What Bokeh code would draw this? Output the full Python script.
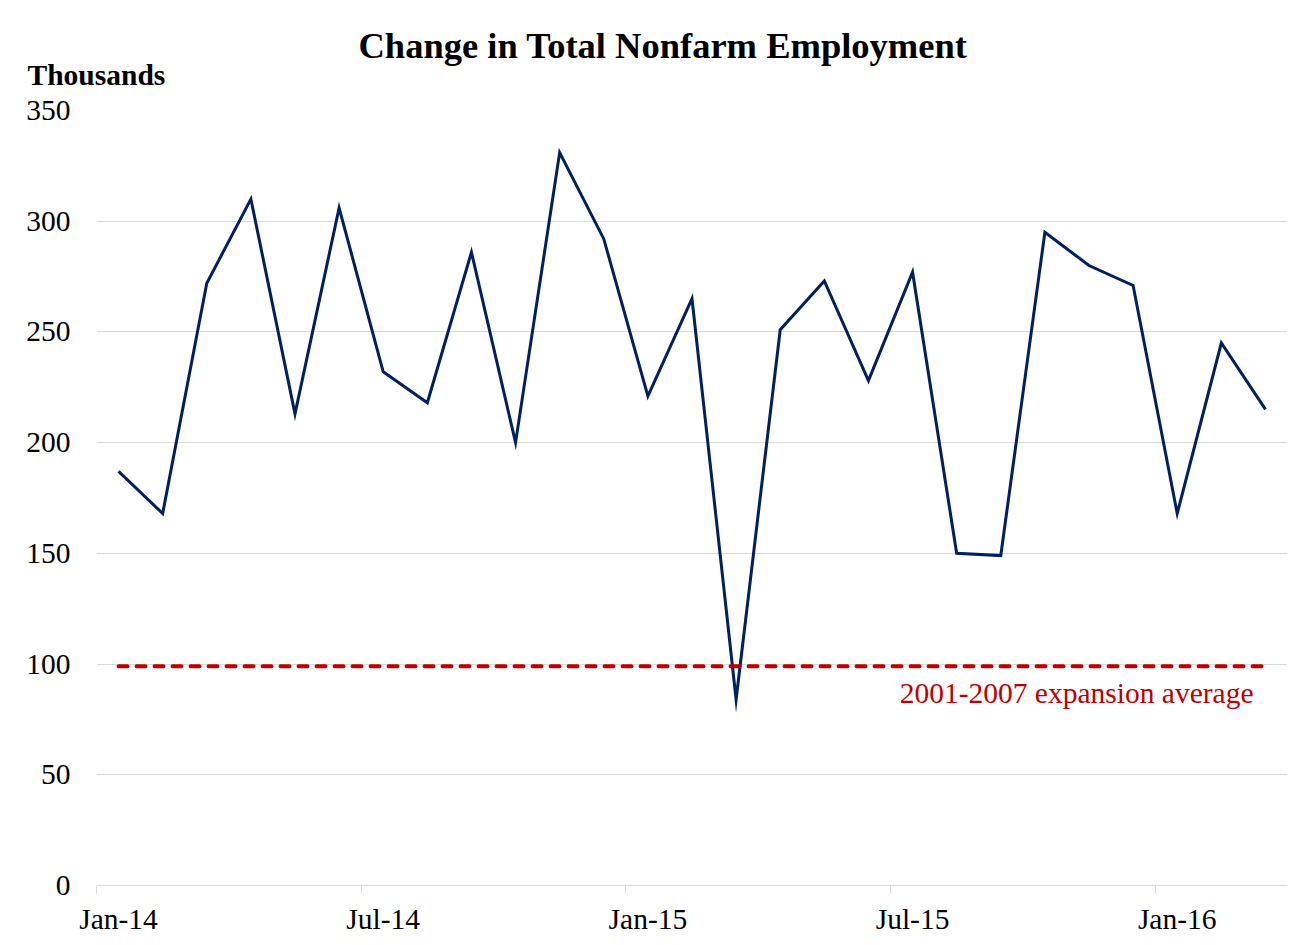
from bokeh.plotting import figure
from bokeh.models import FixedTicker, Label, ColumnDataSource, Title
from bokeh.embed import file_html
from bokeh.resources import INLINE

# ---- data ----
months = ["Jan-14", "Feb-14", "Mar-14", "Apr-14", "May-14", "Jun-14", "Jul-14", "Aug-14", "Sep-14",
          "Oct-14", "Nov-14", "Dec-14", "Jan-15", "Feb-15", "Mar-15", "Apr-15", "May-15", "Jun-15",
          "Jul-15", "Aug-15", "Sep-15", "Oct-15", "Nov-15", "Dec-15", "Jan-16", "Feb-16", "Mar-16"]
change = [187, 168, 272, 310, 213, 306, 232, 218, 286, 200, 331, 292, 221, 265, 84,
          251, 273, 228, 277, 150, 149, 295, 280, 271, 168, 245, 215]
avg_value = 99
avg_label = "2001-2007 expansion average"
y_ticks = [0, 50, 100, 150, 200, 250, 300, 350]
x_tick_labels = ["Jan-14", "Jul-14", "Jan-15", "Jul-15", "Jan-16"]

FONT = "Liberation Serif"
idx = list(range(len(months)))
label_idx = [months.index(m) for m in x_tick_labels]

p = figure(width=1290, height=942, output_backend="svg", toolbar_location=None, title=None,
           x_range=(-0.5, len(months) - 0.5), y_range=(0, 350),
           min_border_left=96, min_border_right=3, min_border_top=110, min_border_bottom=57)
p.outline_line_color = None
p.background_fill_color = "white"
p.border_fill_color = "white"

# grid
p.xgrid.grid_line_color = None
p.ygrid.grid_line_color = "#D9D9D9"
p.ygrid.grid_line_width = 1

# y axis
p.yaxis.ticker = FixedTicker(ticks=y_ticks)
p.yaxis.axis_line_color = None
p.yaxis.major_tick_line_color = None
p.yaxis.minor_tick_line_color = None
p.yaxis.major_tick_out = 0
p.yaxis.major_tick_in = 0
p.yaxis.major_label_standoff = 26
p.yaxis.major_label_text_font = FONT
p.yaxis.major_label_text_font_size = "29.5px"
p.yaxis.major_label_text_color = "black"

# x axis
p.xaxis.ticker = FixedTicker(ticks=label_idx, minor_ticks=[i - 0.5 for i in label_idx])
p.xaxis.major_label_overrides = {i: m for i, m in zip(label_idx, x_tick_labels)}
p.xaxis.axis_line_color = "#D9D9D9"
p.xaxis.major_tick_line_color = None
p.xaxis.major_tick_out = 0
p.xaxis.major_tick_in = 0
p.xaxis.minor_tick_line_color = "#D9D9D9"
p.xaxis.minor_tick_out = 8
p.xaxis.minor_tick_in = 0
p.xaxis.major_label_standoff = 9
p.xaxis.major_label_text_font = FONT
p.xaxis.major_label_text_font_size = "29.5px"
p.xaxis.major_label_text_color = "black"

# series
src = ColumnDataSource(dict(x=idx, y=change))
p.line("x", "y", source=src, line_color="#002060", line_width=3, line_join="miter")

# average line
p.line([idx[0], idx[-1]], [avg_value, avg_value], line_color="#C00000",
       line_width=4, line_dash="9 9", line_cap="round")
p.add_layout(Label(x=idx[-1] - 0.27, y=avg_value - 12, text=avg_label, text_align="right",
                   text_baseline="middle", text_font=FONT, text_font_size="29.5px",
                   text_color="#C00000"))

# unit label and title
p.add_layout(Title(text="Thousands", align="left", offset=-69, standoff=40,
                   text_font=FONT, text_font_size="29.5px", text_font_style="bold",
                   text_color="black"), "above")
p.add_layout(Title(text="Change in Total Nonfarm Employment", align="left", offset=262,
                   standoff=-58, text_font=FONT, text_font_size="36.5px",
                   text_font_style="bold", text_color="black"), "above")

open("out.html", "w").write(file_html(p, INLINE))
